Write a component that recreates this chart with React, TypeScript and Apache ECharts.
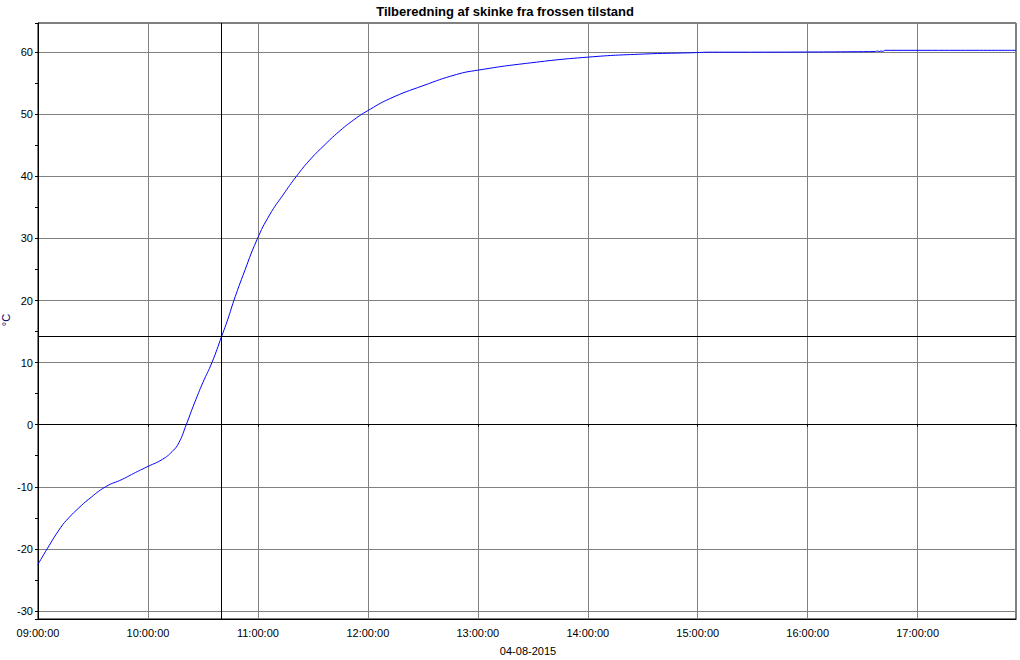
import React, { useEffect, useRef } from "react";
import * as echarts from "echarts";

const chartTitle = "Tilberedning af skinke fra frossen tilstand";
const dateLabel = "04-08-2015";
const unitLabel = "°C";

const times = [
  "09:00:00", "09:05:00", "09:12:18", "09:16:48", "09:22:18", "09:27:42", "09:36:54",
  "09:46:00", "09:53:12", "10:00:12", "10:07:48", "10:13:18", "10:16:54", "10:20:54",
  "10:25:24", "10:30:00", "10:34:54", "10:40:18", "10:43:36", "10:46:54", "10:51:48",
  "10:59:30", "11:06:24", "11:13:42", "11:21:00", "11:28:12", "11:35:30", "11:44:36",
  "11:53:42", "11:59:30", "12:11:54", "12:30:06", "12:48:18", "13:00:00", "13:26:30",
  "14:00:00", "14:30:30", "14:56:00", "15:08:00", "15:27:54", "15:28:00", "16:37:00",
  "16:38:00", "16:39:00", "16:40:00", "16:41:00", "16:42:00", "17:53:40",
];
const temps = [
  -22.5, -20.0, -16.6, -15.0, -13.4, -12.0, -10.0,
  -8.8, -7.7, -6.7, -5.6, -4.3, -2.9, 0.0,
  3.5, 6.8, 10.0, 14.3, 17.0, 20.0, 24.0,
  29.8, 33.8, 37.0, 40.0, 42.6, 44.8, 47.3,
  49.4, 50.5, 52.5, 54.6, 56.4, 57.1, 58.2,
  59.2, 59.7, 59.9, 60.0, 60.0, 60.1, 60.1,
  60.2, 60.1, 60.2, 60.1, 60.3, 60.3,
];

const cursorTime = "10:40:18";
const cursorTemp = 14.3;
const xStart = "09:00:00";
const xEnd = "17:53:40";
const yMin = -31.3;
const yMax = 64.7;

const toHours = (s: string) => {
  const [h, m, sec] = s.split(":").map(Number);
  return h + m / 60 + sec / 3600;
};
const pad = (n: number) => (n < 10 ? "0" + n : "" + n);

const FONT = "'Liberation Sans', Arial, sans-serif";

export default function App() {
  const ref = useRef<HTMLDivElement>(null);
  useEffect(() => {
    if (!ref.current) return;
    const chart = echarts.init(ref.current, null, { renderer: "svg" });
    const data = times.map((t, i) => [toHours(t), temps[i]]);
    const xMin = toHours(xStart);
    const xMax = toHours(xEnd);
    const black = { color: "#000000", width: 1 };
    chart.setOption({
      animation: false,
      backgroundColor: "#ffffff",
      textStyle: { fontFamily: FONT },
      grid: {
        left: 38,
        top: 23,
        right: 4,
        bottom: 41,
        show: true,
        borderColor: "#000000",
        borderWidth: 1,
        backgroundColor: "transparent",
      },
      xAxis: [
        {
          type: "value",
          min: xMin,
          max: xMax,
          interval: 1,
          position: "bottom",
          axisLine: { show: true, onZero: false, lineStyle: black },
          axisTick: { show: false },
          splitLine: { show: true, lineStyle: { color: "#808080", width: 1 } },
          axisLabel: {
            color: "#000000",
            fontSize: 11,
            fontFamily: FONT,
            margin: 8,
            showMaxLabel: false,
            formatter: (v: number) => pad(Math.round(v)) + ":00:00",
          },
        },
        {
          type: "value",
          min: xMin,
          max: xMax,
          interval: 1,
          position: "bottom",
          axisLine: { show: true, onZero: true, onZeroAxisIndex: 0, lineStyle: black },
          axisTick: { show: true, length: 2, lineStyle: black },
          splitLine: { show: false },
          axisLabel: { show: false },
        },
      ],
      yAxis: [
        {
          type: "value",
          min: yMin,
          max: yMax,
          minInterval: 10,
          maxInterval: 10,
          position: "left",
          axisLine: { show: true, onZero: false, lineStyle: black },
          axisTick: { show: false },
          splitLine: { show: true, lineStyle: { color: "#808080", width: 1 } },
          axisLabel: {
            color: "#000000",
            fontSize: 11,
            fontFamily: FONT,
            margin: 5,
            showMinLabel: false,
            showMaxLabel: false,
          },
        },
        {
          type: "value",
          min: yMin,
          max: yMax,
          minInterval: 5,
          maxInterval: 5,
          position: "left",
          axisLine: { show: false, onZero: false },
          axisTick: { show: true, length: 3, lineStyle: black },
          splitLine: { show: false },
          axisLabel: { show: false },
        },
      ],
      graphic: [
        {
          type: "text",
          x: 505,
          y: 11,
          style: {
            text: chartTitle,
            font: "bold 13px " + FONT,
            fill: "#000000",
            textAlign: "center",
            textVerticalAlign: "middle",
          },
        },
        {
          type: "text",
          x: 528,
          y: 651,
          style: {
            text: dateLabel,
            font: "11px " + FONT,
            fill: "#000000",
            textAlign: "center",
            textVerticalAlign: "middle",
          },
        },
        {
          type: "text",
          x: 6,
          y: 320,
          rotation: Math.PI / 2,
          style: {
            text: unitLabel,
            font: "11px " + FONT,
            fill: "#000060",
            textAlign: "center",
            textVerticalAlign: "middle",
          },
        },
      ],
      series: [
        {
          type: "line",
          xAxisIndex: 0,
          yAxisIndex: 0,
          data,
          showSymbol: false,
          smooth: 0.5,
          lineStyle: { color: "#0000ff", width: 1 },
          markLine: {
            silent: true,
            symbol: "none",
            label: { show: false },
            lineStyle: { color: "#000000", width: 1, type: "solid" },
            data: [{ xAxis: toHours(cursorTime) }, { yAxis: cursorTemp }],
          },
        },
      ],
    });
    return () => chart.dispose();
  }, []);
  return (
    <div
      ref={ref}
      style={{ position: "absolute", left: 0, top: 0, width: 1020, height: 660, background: "#fff" }}
    />
  );
}
